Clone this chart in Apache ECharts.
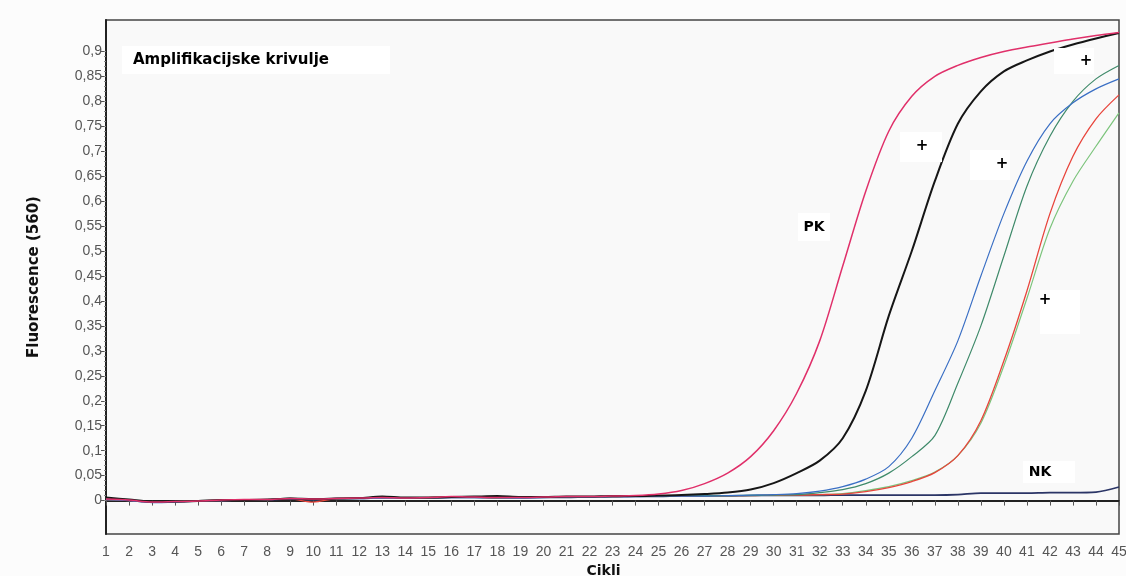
<!DOCTYPE html>
<html>
<head>
<meta charset="utf-8">
<script src="https://cdn.jsdelivr.net/npm/echarts@6/dist/echarts.min.js"></script>
<style>
  html, body { margin: 0; padding: 0; background: #fcfcfc; }
  #chart { width: 1126px; height: 576px; }
</style>
</head>
<body>
<div id="chart"></div>
<script>
// ciklusi 1..45
var cycles = [1,2,3,4,5,6,7,8,9,10,11,12,13,14,15,16,17,18,19,20,21,22,23,24,25,26,27,28,29,30,31,32,33,34,35,36,37,38,39,40,41,42,43,44,45];
var yTicks = [0,0.05,0.1,0.15,0.2,0.25,0.3,0.35,0.4,0.45,0.5,0.55,0.6,0.65,0.7,0.75,0.8,0.85,0.9];

// PK - pozitivna kontrola
var pk = [0.003,0.001,-0.003,-0.002,-0.001,0.001,0.002,0.002,0.004,0.003,0.004,0.005,0.006,0.005,0.006,0.008,0.007,0.006,0.006,0.007,0.008,0.008,0.009,0.010,
  0.013,0.020,0.034,0.055,0.088,0.140,0.215,0.320,0.470,0.620,0.740,0.810,0.850,0.872,0.888,0.900,0.909,0.917,0.925,0.932,0.938];
var black = [0.006,0.002,-0.002,-0.002,-0.001,0.001,0.001,0.002,0.004,0.003,0.004,0.005,0.008,0.006,0.006,0.007,0.008,0.009,0.007,0.007,0.008,0.008,0.009,0.009,
  0.010,0.011,0.013,0.016,0.022,0.035,0.055,0.080,0.125,0.220,0.370,0.500,0.640,0.755,0.820,0.860,0.882,0.900,0.914,0.926,0.937];
var blue = [0.002,0.000,-0.004,-0.003,-0.001,0.000,0.001,0.002,0.003,0.002,0.004,0.004,0.005,0.005,0.006,0.006,0.006,0.006,0.005,0.006,0.007,0.007,0.008,0.008,0.009,0.009,0.009,0.010,0.011,
  0.012,0.014,0.019,0.028,0.043,0.068,0.125,0.220,0.320,0.450,0.575,0.680,0.755,0.797,0.825,0.845];
var teal = [0.003,0.001,-0.003,-0.002,-0.001,0.001,0.001,0.002,0.005,0.003,0.004,0.005,0.006,0.005,0.006,0.007,0.007,0.006,0.006,0.008,0.008,0.008,0.009,0.009,0.009,0.010,0.010,0.010,0.010,
  0.011,0.012,0.016,0.022,0.034,0.055,0.088,0.130,0.235,0.350,0.490,0.630,0.730,0.800,0.845,0.872];
var red = [0.002,0.000,-0.003,-0.002,-0.001,0.000,0.001,0.002,0.003,-0.003,0.004,0.005,0.005,0.005,0.006,0.008,0.007,0.006,0.006,0.007,0.007,0.008,0.008,0.009,0.009,0.009,0.010,0.010,0.010,0.011,0.011,0.012,
  0.013,0.018,0.026,0.038,0.056,0.090,0.160,0.280,0.420,0.575,0.690,0.765,0.813];
var lightGreen = [0.002,0.001,-0.003,-0.002,-0.001,0.001,0.001,0.002,0.004,0.003,0.004,0.005,0.005,0.005,0.006,0.007,0.007,0.006,0.006,0.007,0.007,0.008,0.008,0.009,0.009,0.010,0.010,0.010,0.011,0.011,0.012,0.012,
  0.014,0.020,0.028,0.040,0.057,0.090,0.155,0.270,0.405,0.545,0.640,0.710,0.777];
// NK - negativna kontrola
var nk = [0.002,0.000,-0.003,-0.002,-0.001,0.000,0.001,0.001,0.003,0.002,0.004,0.004,0.005,0.005,0.005,0.006,0.006,0.005,0.005,0.006,0.006,0.007,0.007,0.008,0.008,
  0.009,0.009,0.009,0.010,0.010,0.010,0.010,0.011,0.011,0.011,0.011,0.011,0.012,0.015,0.015,0.015,0.016,0.016,0.017,0.027];

function pairs(arr) {
  return cycles.map(function (c, i) { return [c, arr[i]]; });
}

var minorTicks = [];
for (var k = 0; k <= 90; k++) minorTicks.push(k / 100);

function line(name, arr, color, width) {
  return {
    name: name,
    type: 'line',
    showSymbol: false,
    symbol: 'none',
    smooth: 0.3,
    data: pairs(arr),
    lineStyle: { color: color, width: width },
    itemStyle: { color: color },
    z: 3
  };
}

var boldFont = 'DejaVu Sans, Liberation Sans, Arial, sans-serif';

function label(txt, x, y, size) {
  return { type: 'text', x: x, y: y, z: 11,
    style: { text: txt, font: 'bold ' + size + 'px ' + boldFont, fill: '#000', align: 'center', verticalAlign: 'middle' } };
}
function box(x, y, w, h) {
  return { type: 'rect', shape: { x: x, y: y, width: w, height: h }, style: { fill: '#fff' }, z: 10 };
}

var mychart = echarts.init(document.getElementById('chart'));
var option = {
  backgroundColor: '#fcfcfc',
  animation: false,
  textStyle: { fontFamily: 'Liberation Sans, Arial, sans-serif' },
  grid: {
    left: 106, right: 7, top: 20, bottom: 42,
    outerBoundsMode: 'none',
    show: true,
    backgroundColor: '#f9f9f9',
    borderColor: '#444',
    borderWidth: 1.5
  },
  xAxis: {
    type: 'value',
    min: 1,
    max: 45,
    interval: 1,
    name: 'Cikli',
    nameLocation: 'middle',
    nameGap: 27,
    nameTextStyle: { fontWeight: 'bold', fontSize: 14, color: '#111', fontFamily: boldFont, padding: [0, 18, 0, 0] },
    axisLine: { lineStyle: { color: '#222', width: 2 } },
    axisTick: { length: 5, lineStyle: { color: '#555' } },
    axisLabel: { color: '#555', fontSize: 14, margin: 11, hideOverlap: false },
    splitLine: { show: false }
  },
  yAxis: [
    {
      type: 'value',
      min: -0.067,
      max: 0.963,
      name: 'Fluorescence (560)',
      nameLocation: 'middle',
      nameGap: 64,
      nameTextStyle: { fontWeight: 'bold', fontSize: 15, color: '#111', fontFamily: boldFont },
      axisLine: { show: true, lineStyle: { color: '#222', width: 2 } },
      axisTick: { show: true, customValues: yTicks, length: 5, lineStyle: { color: '#555' } },
      axisLabel: {
        customValues: yTicks,
        color: '#555',
        fontSize: 14,
        margin: 4,
        formatter: function (v) { return String(v).replace('.', ','); }
      },
      splitLine: { show: false }
    },
    {
      type: 'value',
      min: -0.067,
      max: 0.963,
      position: 'left',
      axisLine: { show: false },
      axisTick: { show: true, customValues: minorTicks, length: 2, lineStyle: { color: '#888' } },
      axisLabel: { show: false },
      splitLine: { show: false }
    }
  ],
  series: [
    line('NK', nk, '#2b3566', 1.6),
    line('svijetlo zelena', lightGreen, '#7cc47c', 1.2),
    line('crvena', red, '#e8453c', 1.3),
    line('zelena', teal, '#3f8a6a', 1.2),
    line('plava', blue, '#3a6fc4', 1.2),
    line('crna', black, '#161616', 2),
    line('PK', pk, '#e0306a', 1.5)
  ],
  graphic: [
    box(122, 46, 268, 28),
    { type: 'text', x: 133, y: 60, z: 11,
      style: { text: 'Amplifikacijske krivulje', font: 'bold 15px ' + boldFont, fill: '#000', verticalAlign: 'middle' } },
    box(798, 213, 32, 28),
    label('PK', 814, 227, 14),
    box(1023, 461, 52, 22),
    label('NK', 1040, 472, 14),
    box(900, 132, 42, 30),
    label('+', 922, 146, 15),
    box(970, 150, 40, 30),
    label('+', 1002, 164, 15),
    box(1054, 48, 40, 26),
    label('+', 1086, 61, 15),
    box(1040, 290, 40, 44),
    label('+', 1045, 300, 15)
  ]
};
mychart.setOption(option);
</script>
</body>
</html>
